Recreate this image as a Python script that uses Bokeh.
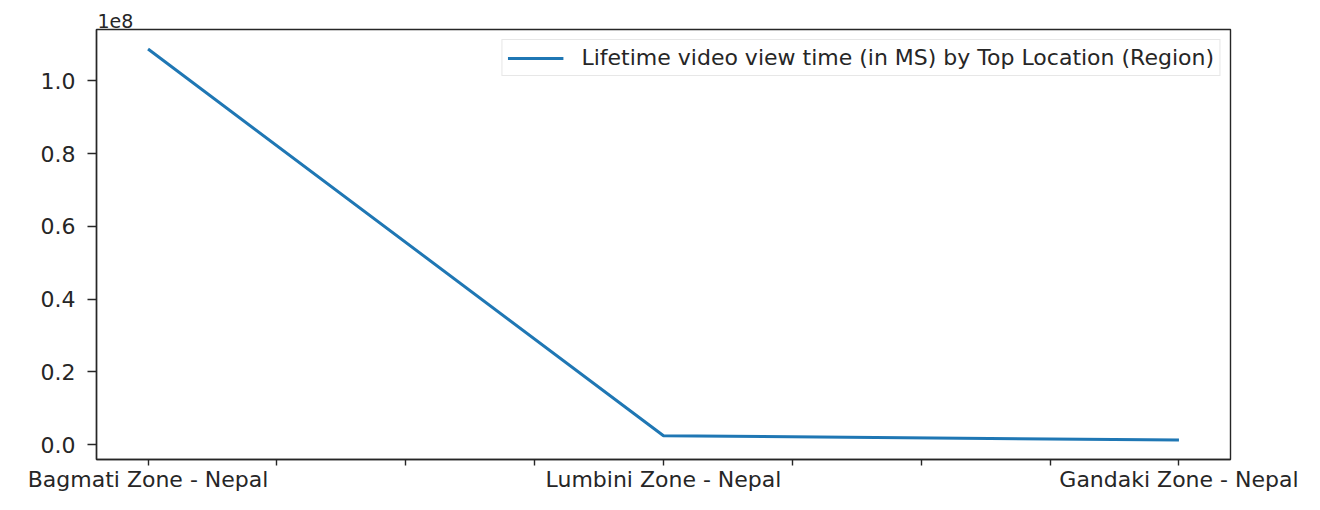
from bokeh.plotting import figure
from bokeh.models import Range1d, FixedTicker, CustomJSTickFormatter, Legend, LegendItem
from bokeh.embed import file_html
from bokeh.resources import INLINE

categories = ["Bagmati Zone - Nepal", "Lumbini Zone - Nepal", "Gandaki Zone - Nepal"]
view_time_ms = [108.7e6, 2.45e6, 1.3e6]
series_name = "Lifetime video view time (in MS) by Top Location (Region)"
y_ticks = [0.0, 0.2e8, 0.4e8, 0.6e8, 0.8e8, 1.0e8]
x_ticks = [0, 0.25, 0.5, 0.75, 1.0, 1.25, 1.5, 1.75, 2.0]

FONT = "DejaVu Sans"
FS = "22px"
TXT = "#262626"

W, H = 1304, 494
LEFT, RIGHT, TOP, BOTTOM = 96, 74, 29, 35

xs = list(range(len(categories)))
lo, hi = min(view_time_ms), max(view_time_ms)
pad = (hi - lo) * 0.05

p = figure(width=W, height=H, output_backend="svg", toolbar_location=None,
           x_range=Range1d(-0.1, len(categories) - 1 + 0.1),
           y_range=Range1d(lo - pad, hi + pad),
           min_border_left=LEFT, min_border_right=RIGHT,
           min_border_top=TOP, min_border_bottom=BOTTOM,
           title="1e8")
p.title.align = "left"
p.title.offset = 1
p.title.standoff = 3
p.title.text_font = FONT
p.title.text_font_size = "19px"
p.title.text_font_style = "normal"
p.title.text_color = TXT

p.grid.visible = False
p.outline_line_color = "#262626"
p.outline_line_width = 1.4
p.background_fill_color = "white"
p.border_fill_color = "white"

r = p.line(xs, view_time_ms, line_color="#1f77b4", line_width=3)

for ax in (p.xaxis[0], p.yaxis[0]):
    ax.axis_line_color = "#262626"
    ax.axis_line_width = 1.4
    ax.major_tick_line_color = "#262626"
    ax.major_tick_line_width = 1.4
    ax.major_tick_in = 0
    ax.minor_tick_line_color = None
    ax.major_label_text_font = FONT
    ax.major_label_text_font_size = FS
    ax.major_label_text_color = TXT

p.xaxis.ticker = FixedTicker(ticks=x_ticks)
p.xaxis.major_tick_out = 6
p.xaxis.major_label_standoff = 1
p.xaxis.formatter = CustomJSTickFormatter(args=dict(labels=categories),
    code="return Number.isInteger(tick) ? labels[tick] : '';")

p.yaxis.ticker = FixedTicker(ticks=y_ticks)
p.yaxis.major_tick_out = 9
p.yaxis.major_label_standoff = 12
p.yaxis.formatter = CustomJSTickFormatter(code="return (tick/1e8).toFixed(1);")

legend = Legend(items=[LegendItem(label=series_name, renderers=[r])],
                location="top_right", margin=10, padding=5, spacing=0,
                label_text_font=FONT, label_text_font_size=FS, label_text_color=TXT,
                glyph_width=56, glyph_height=22, label_height=22, label_standoff=18,
                border_line_color="#d0d0d0", border_line_width=1.2,
                background_fill_alpha=0.8)
p.add_layout(legend)

open("out.html", "w").write(file_html(p, INLINE))
